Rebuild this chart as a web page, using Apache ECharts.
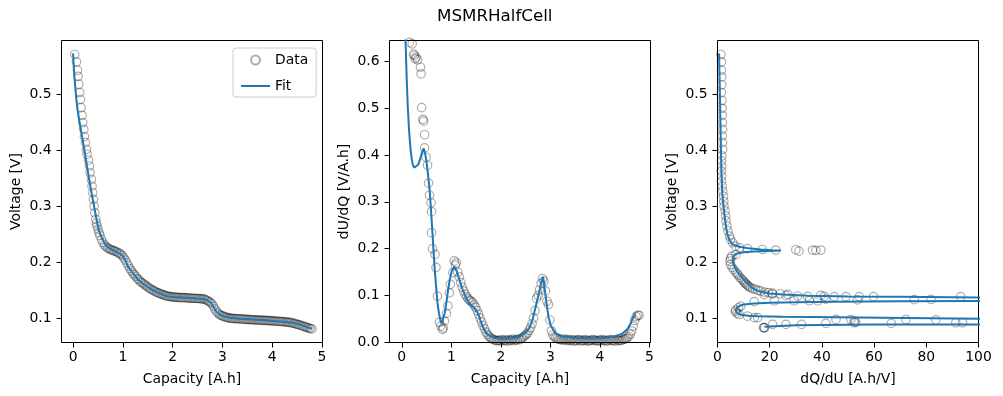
<!DOCTYPE html>
<html><head><meta charset="utf-8">
<script src="https://cdn.jsdelivr.net/npm/echarts@6/dist/echarts.min.js"></script>
<style>html,body{margin:0;padding:0;background:#fff}#c{width:1003px;height:396px}</style>
</head><body><div id="c"></div>
<script>
// ---- tick labels ----
const capTicks = [0, 1, 2, 3, 4, 5];
const voltTicks = [0.1, 0.2, 0.3, 0.4, 0.5];
const dudqTicks = [0, 0.1, 0.2, 0.3, 0.4, 0.5, 0.6];

// ---- panel 1: Voltage vs Capacity ----
const p1DataCap = [0.034,0.067,0.088,0.101,0.114,0.134,0.148,0.161,0.181,0.194,0.214,0.228,0.248,0.268,0.281,0.308,0.328,0.341,0.368,0.381,0.395,0.408,0.422,0.435,0.455,0.47,0.482,0.50,0.522,0.54,0.569,0.60,0.63,0.66,0.69,0.72,0.75,0.78,0.81,0.84,0.87,0.90,0.93,0.96,0.99,
1.02,1.05,1.08,1.11,1.14,1.17,1.20,1.23,1.26,1.29,1.32,1.35,1.38,1.41,1.44,1.47,1.50,1.53,1.56,1.59,1.62,1.65,1.68,1.71,1.74,1.77,1.80,1.83,1.86,1.89,1.92,1.95,1.98,2.01,2.04,2.07,2.10,2.13,2.16,2.19,2.22,2.25,2.28,2.31,2.34,2.37,2.40,2.43,2.46,2.49,2.52,2.55,2.58,2.61,2.64,2.67,2.70,2.73,2.76,2.79,2.82,2.85,2.88,2.91,2.94,2.97,3.00,3.03,3.06,3.09,3.12,3.15,3.18,3.21,3.24,3.27,3.30,3.33,3.36,3.39,3.42,3.45,3.48,3.51,3.54,3.57,3.60,3.63,3.66,3.69,3.72,3.75,3.78,3.81,3.84,3.87,3.90,3.93,3.96,3.99,4.02,4.05,4.08,4.11,4.14,4.17,4.20,4.23,4.26,4.29,4.32,4.35,4.38,4.41,4.44,4.47,4.50,4.53,4.56,4.59,4.62,4.65,4.68,4.71,4.74,4.77,4.80,4.82];
const p1DataVolt = [0.571,0.558,0.543,0.532,0.518,0.503,0.491,0.476,0.4625,0.4495,0.4375,0.4245,0.4137,0.4018,0.393,0.3827,0.372,0.360,0.348,0.336,0.3245,0.3125,0.3005,0.2886,0.2768,0.270,0.2648,0.259,0.253,0.248,0.241,0.235,0.231,0.228,0.226,0.2245,0.223,0.222,0.221,0.220,0.219,0.2175,0.216,0.2145,0.212,
0.208,0.204,0.199,0.194,0.189,0.185,0.181,0.178,0.175,0.171,0.169,0.166,0.164,0.162,0.160,0.158,0.156,0.154,0.1525,0.151,0.1495,0.148,0.1465,0.1455,0.1445,0.1435,0.1425,0.1415,0.1405,0.140,0.1395,0.139,0.1385,0.138,0.138,0.1378,0.1375,0.1372,0.137,0.137,0.137,0.137,0.1366,0.1365,0.1362,0.136,0.136,0.136,0.1357,0.1355,0.1355,0.1352,0.135,0.135,0.1343,0.1332,0.1318,0.130,0.1285,0.126,0.1215,0.1165,0.1125,0.1095,0.107,0.1055,0.1045,0.1035,0.1025,0.1017,0.101,0.1005,0.1002,0.0999,0.0997,0.0995,0.0994,0.0993,0.0991,0.0989,0.0987,0.0985,0.0983,0.0981,0.0979,0.0978,0.0976,0.0975,0.0974,0.0972,0.0971,0.0969,0.0968,0.0966,0.0965,0.0964,0.0962,0.096,0.0959,0.0957,0.0955,0.0953,0.0951,0.0949,0.0947,0.0945,0.0943,0.0941,0.0938,0.0935,0.0932,0.0928,0.0923,0.0917,0.0911,0.0904,0.0896,0.0888,0.0879,0.087,0.0861,0.0852,0.0843,0.0834,0.0825,0.0818,0.0812];
const p1FitCap = [0.00,0.02,0.04,0.06,0.08,0.10,0.13,0.16,0.19,0.22,0.25,0.28,0.31,0.34,0.37,0.40,0.43,0.46,0.49,0.52,0.55,0.58,0.61,0.64,0.67,0.70,0.75,0.80,0.85,0.90,0.95,1.00,1.05,1.10,1.20,1.30,1.40,1.50,1.57,1.70,1.87,2.00,2.27,2.50,2.61,2.70,2.77,2.82,2.87,2.94,3.01,3.15,3.34,3.60,3.88,4.10,4.30,4.41,4.50,4.61,4.70,4.80];
const p1FitVolt = [0.573,0.540,0.517,0.496,0.479,0.467,0.450,0.435,0.420,0.404,0.388,0.371,0.355,0.339,0.324,0.310,0.296,0.282,0.268,0.257,0.249,0.243,0.238,0.233,0.229,0.2265,0.224,0.222,0.2195,0.2175,0.215,0.211,0.204,0.193,0.181,0.170,0.162,0.156,0.152,0.146,0.140,0.138,0.137,0.1355,0.135,0.132,0.128,0.121,0.113,0.107,0.104,0.101,0.0995,0.098,0.0965,0.095,0.0935,0.0923,0.0905,0.0875,0.0845,0.0815];

// ---- panel 2: dU/dQ vs Capacity ----
const p2DataCap = [0.10,0.155,0.21,0.235,0.255,0.27,0.29,0.32,0.376,0.39,0.40,0.425,0.44,0.46,0.46,0.49,0.52,0.54,0.56,0.59,0.60,0.60,0.62,0.67,0.69,0.72,0.76,0.79,0.82,0.84,0.86,0.90,0.93,0.96,0.98,1.03,1.06,1.08,1.10,1.13,1.16,1.19,1.22,1.25,1.28,1.31,1.34,1.37,1.40,1.43,1.46,1.49,1.52,1.55,1.58,1.61,1.64,1.67,1.70,1.73,1.76,1.79,1.82,1.85,1.88,1.91,1.94,1.97,2.00,2.03,2.06,2.09,2.12,2.15,2.18,2.21,2.24,2.27,2.30,2.33,2.36,2.39,2.42,2.45,2.48,2.51,2.54,2.57,2.60,2.63,2.66,2.69,2.72,2.75,2.78,2.81,2.84,2.87,2.90,2.93,2.96,2.99,3.02,3.05,3.08,3.11,3.14,3.17,3.20,3.23,3.26,3.29,3.32,3.35,3.38,3.41,3.44,3.47,3.50,3.53,3.56,3.59,3.62,3.65,3.68,3.71,3.74,3.77,3.80,3.83,3.86,3.89,3.92,3.95,3.98,4.01,4.04,4.07,4.10,4.13,4.16,4.19,4.22,4.25,4.28,4.31,4.34,4.37,4.40,4.43,4.46,4.49,4.52,4.55,4.58,4.61,4.64,4.67,4.70,4.73,4.76,4.79];
const p2DataVal = [0.66,0.640,0.637,0.615,0.612,0.605,0.608,0.603,0.587,0.573,0.501,0.476,0.472,0.443,0.415,0.395,0.378,0.340,0.314,0.298,0.279,0.234,0.200,0.188,0.160,0.099,0.043,0.035,0.028,0.031,0.046,0.062,0.078,0.106,0.124,0.149,0.174,0.165,0.170,0.150,0.140,0.128,0.118,0.110,0.103,0.098,0.093,0.090,0.088,0.085,0.080,0.075,0.068,0.060,0.052,0.044,0.036,0.029,0.022,0.017,0.013,0.010,0.008,0.006,0.005,0.004,0.004,0.005,0.003,0.006,0.004,0.005,0.003,0.006,0.004,0.005,0.007,0.004,0.006,0.005,0.008,0.006,0.009,0.011,0.014,0.017,0.020,0.026,0.032,0.040,0.052,0.068,0.094,0.100,0.112,0.126,0.136,0.131,0.110,0.088,0.081,0.048,0.025,0.016,0.012,0.010,0.008,0.007,0.006,0.006,0.005,0.007,0.004,0.006,0.005,0.004,0.006,0.003,0.005,0.004,0.006,0.005,0.003,0.005,0.004,0.006,0.004,0.003,0.005,0.004,0.006,0.005,0.004,0.003,0.005,0.004,0.006,0.004,0.005,0.003,0.004,0.006,0.005,0.004,0.005,0.003,0.006,0.004,0.005,0.004,0.006,0.007,0.008,0.010,0.013,0.018,0.025,0.035,0.047,0.055,0.058,0.058];
const p2FitCap = [0.04,0.06,0.075,0.10,0.12,0.145,0.17,0.195,0.22,0.25,0.29,0.33,0.37,0.41,0.44,0.47,0.50,0.53,0.56,0.585,0.61,0.635,0.66,0.69,0.72,0.75,0.78,0.81,0.84,0.87,0.89,0.93,0.97,1.01,1.06,1.11,1.16,1.22,1.30,1.38,1.46,1.52,1.56,1.61,1.66,1.72,1.83,2.00,2.17,2.35,2.50,2.58,2.64,2.70,2.77,2.82,2.85,2.88,2.92,2.96,3.01,3.10,3.24,3.50,3.78,4.05,4.31,4.45,4.55,4.62,4.65,4.69,4.72];
const p2FitVal = [0.90,0.72,0.647,0.56,0.505,0.455,0.420,0.395,0.380,0.373,0.371,0.379,0.391,0.406,0.414,0.404,0.384,0.358,0.327,0.290,0.249,0.205,0.163,0.122,0.085,0.062,0.048,0.041,0.045,0.064,0.078,0.108,0.135,0.153,0.162,0.152,0.135,0.115,0.095,0.082,0.074,0.066,0.056,0.040,0.028,0.018,0.011,0.008,0.0085,0.011,0.021,0.032,0.049,0.075,0.106,0.130,0.140,0.118,0.085,0.055,0.035,0.020,0.0135,0.0095,0.0085,0.009,0.0135,0.019,0.028,0.040,0.049,0.057,0.062];

// ---- panel 3: Voltage vs dQ/dU ----
const p3DataDqdu = [1.3,1.5,1.5,1.6,1.6,1.5,1.7,1.8,1.8,1.9,1.9,1.8,1.9,2.0,1.7,1.5,1.6,1.4,1.6,1.5,1.8,2.0,2.3,2.4,2.5,2.9,3.1,3.3,3.6,4.0,4.6,5.0,5.8,6.8,8.5,11.5,17.2,22.3,30.0,31.2,36.4,37.7,39.6,
7.0,5.5,5.0,4.8,5.0,5.6,6.2,7.0,7.5,8.0,8.6,9.2,9.8,10.2,10.6,11.0,11.5,12.0,12.6,13.5,14.5,15.5,16.5,18.0,19.5,21.0,24.0,27.0,
17.9,21.1,26.2,30.7,34.5,39.6,40.9,44.7,49.2,54.3,59.8,93.2,
75.4,81.8,53.6,41.5,38.4,35.2,29.4,21.8,14.1,
8.9,8.0,7.0,6.8,7.5,8.3,11.5,14.1,15.4,
45.4,51.1,52.4,72.2,83.7,91.3,93.9,
21.1,26.2,32.2,41.5,52.4,53.0,66.6,17.9,17.6,18.0];
const p3DataVolt = [0.571,0.558,0.543,0.531,0.517,0.503,0.489,0.475,0.4625,0.4495,0.4375,0.4256,0.4137,0.4018,0.390,0.381,0.372,0.363,0.354,0.345,0.336,0.327,0.318,0.309,0.3005,0.292,0.283,0.274,0.265,0.256,0.247,0.241,0.235,0.229,0.226,0.2245,0.223,0.222,0.2225,0.220,0.222,0.2215,0.222,
0.214,0.211,0.207,0.202,0.196,0.191,0.187,0.183,0.180,0.177,0.173,0.170,0.168,0.165,0.163,0.161,0.159,0.157,0.155,0.153,0.152,0.150,0.149,0.147,0.146,0.145,0.144,0.143,
0.1425,0.1435,0.141,0.140,0.1395,0.141,0.1395,0.139,0.139,0.139,0.139,0.139,
0.1335,0.134,0.133,0.1345,0.1315,0.1315,0.1315,0.1315,0.130,
0.122,0.119,0.115,0.112,0.109,0.107,0.104,0.1015,0.1015,
0.0982,0.098,0.0952,0.098,0.0975,0.0923,0.0923,
0.0893,0.0893,0.0893,0.0911,0.0923,0.0928,0.0911,0.0834,0.0836,0.0832];
const p3FitDqdu = [0.6,0.8,1.0,1.2,1.5,1.9,2.3,2.8,3.3,3.8,4.5,5.8,8.3,12,16.6,21,24.3,20,14,10,7.5,6.3,5.9,5.8,6.2,6.8,7.8,9.0,10.5,12.0,13.5,15.0,17.0,20.0,25.0,35.0,50.0,70.0,100,140,200,
200,140,100,70,45,30,20,14,10,8.5,7.6,7.0,7.2,8.0,9.5,12,15.4,25,37,63,100,150,
150,100,60,40,30,22,18];
const p3FitVolt = [0.573,0.53,0.48,0.43,0.36,0.32,0.30,0.28,0.262,0.25,0.241,0.232,0.228,0.225,0.223,0.2215,0.221,0.2203,0.2192,0.218,0.2158,0.2125,0.208,0.203,0.197,0.190,0.182,0.175,0.167,0.160,0.154,0.150,0.147,0.1445,0.1425,0.1405,0.1393,0.1385,0.1375,0.137,0.1365,
0.1315,0.1312,0.131,0.1305,0.1298,0.129,0.128,0.1268,0.1248,0.1225,0.1195,0.115,0.111,0.108,0.106,0.1048,0.104,0.103,0.1024,0.1012,0.0995,0.0985,
0.0897,0.0893,0.089,0.0884,0.0876,0.0862,0.0852];

const pairs = (xs, ys) => xs.map((x, i) => [x, ys[i]]);

const FONT = 'DejaVu Sans';
const FS = 13.9;
const BLUE = '#1f77b4';
const dataStyle = { color: 'rgba(0,0,0,0)', borderColor: 'rgba(0,0,0,0.4)', borderWidth: 1.2 };

function grid(left) { return { left: left, top: 40.5, width: 261, height: 302, show: true, borderColor: '#000', borderWidth: 1, containLabel: false }; }
function axisCommon() {
  return {
    axisLine: { show: false, onZero: false },
    axisTick: { show: true, inside: false, length: 5, lineStyle: { color: '#000', width: 1 } },
    axisLabel: { color: '#000', fontFamily: FONT, fontSize: FS, margin: 8 },
    splitLine: { show: false },
    nameLocation: 'middle',
    nameTextStyle: { color: '#000', fontFamily: FONT, fontSize: FS }
  };
}
function withTicks(a, ticks, fmt, margin) {
  a.axisTick.customValues = ticks;
  a.axisLabel.customValues = ticks;
  a.axisLabel.formatter = fmt;
  if (margin !== undefined) a.axisLabel.margin = margin;
  return a;
}
function xCap(idx, min, max) {
  const a = Object.assign(axisCommon(), { type: 'value', gridIndex: idx, min: min, max: max, name: 'Capacity [A.h]', nameGap: 30 });
  return withTicks(a, capTicks, v => String(v));
}
function yVolt(idx) {
  const a = Object.assign(axisCommon(), { type: 'value', gridIndex: idx, min: 0.057, max: 0.596, name: 'Voltage [V]', nameGap: 38 });
  return withTicks(a, voltTicks, v => v.toFixed(1), 10);
}
const y2 = withTicks(Object.assign(axisCommon(), {
  type: 'value', gridIndex: 1, min: 0, max: 0.644, name: 'dU/dQ [V/A.h]', nameGap: 38
}), dudqTicks, v => v.toFixed(1), 10);
const x3 = Object.assign(axisCommon(), {
  type: 'value', gridIndex: 2, min: 0, max: 100, interval: 20, name: 'dQ/dU [A.h/V]', nameGap: 30
});

function scatter(idx, d) {
  return { name: 'Data', type: 'scatter', xAxisIndex: idx, yAxisIndex: idx, data: d, symbol: 'circle', symbolSize: 8.5, itemStyle: dataStyle, emphasis: { disabled: true }, z: 2 };
}
function fit(idx, d) {
  return { name: 'Fit', type: 'line', xAxisIndex: idx, yAxisIndex: idx, data: d, showSymbol: false, symbol: 'none', lineStyle: { color: BLUE, width: 2 }, itemStyle: { color: BLUE }, emphasis: { disabled: true }, z: 3 };
}

const chart = echarts.init(document.getElementById('c'), null, { renderer: 'canvas' });
chart.setOption({
  animation: false,
  backgroundColor: '#fff',
  textStyle: { fontFamily: FONT },
  title: { text: 'MSMRHalfCell', left: 437, top: 8, padding: 0, textStyle: { fontFamily: FONT, fontSize: 16.7, fontWeight: 'normal', color: '#000' } },
  legend: {
    left: 233, top: 48, orient: 'vertical', padding: [4, 8, 3, 7], itemGap: 10,
    itemWidth: 29, itemHeight: 9,
    borderColor: '#cccccc', borderWidth: 1, borderRadius: 3, backgroundColor: '#fff',
    textStyle: { color: '#000', fontFamily: FONT, fontSize: FS, lineHeight: 16 },
    data: [
      { name: 'Data' },
      { name: 'Fit', itemStyle: { opacity: 0, color: 'rgba(0,0,0,0)', borderWidth: 0 }, lineStyle: { color: BLUE, width: 2, opacity: 1 } }
    ],
    selectedMode: false
  },
  grid: [grid(61.5), grid(389.5), grid(717.5)],
  xAxis: [xCap(0, -0.233, 5.012), xCap(1, -0.248, 5.02), x3],
  yAxis: [yVolt(0), y2, yVolt(2)],
  series: [
    scatter(0, pairs(p1DataCap, p1DataVolt)), fit(0, pairs(p1FitCap, p1FitVolt)),
    scatter(1, pairs(p2DataCap, p2DataVal)), fit(1, pairs(p2FitCap, p2FitVal)),
    scatter(2, pairs(p3DataDqdu, p3DataVolt)), fit(2, pairs(p3FitDqdu, p3FitVolt))
  ]
});
</script></body></html>
